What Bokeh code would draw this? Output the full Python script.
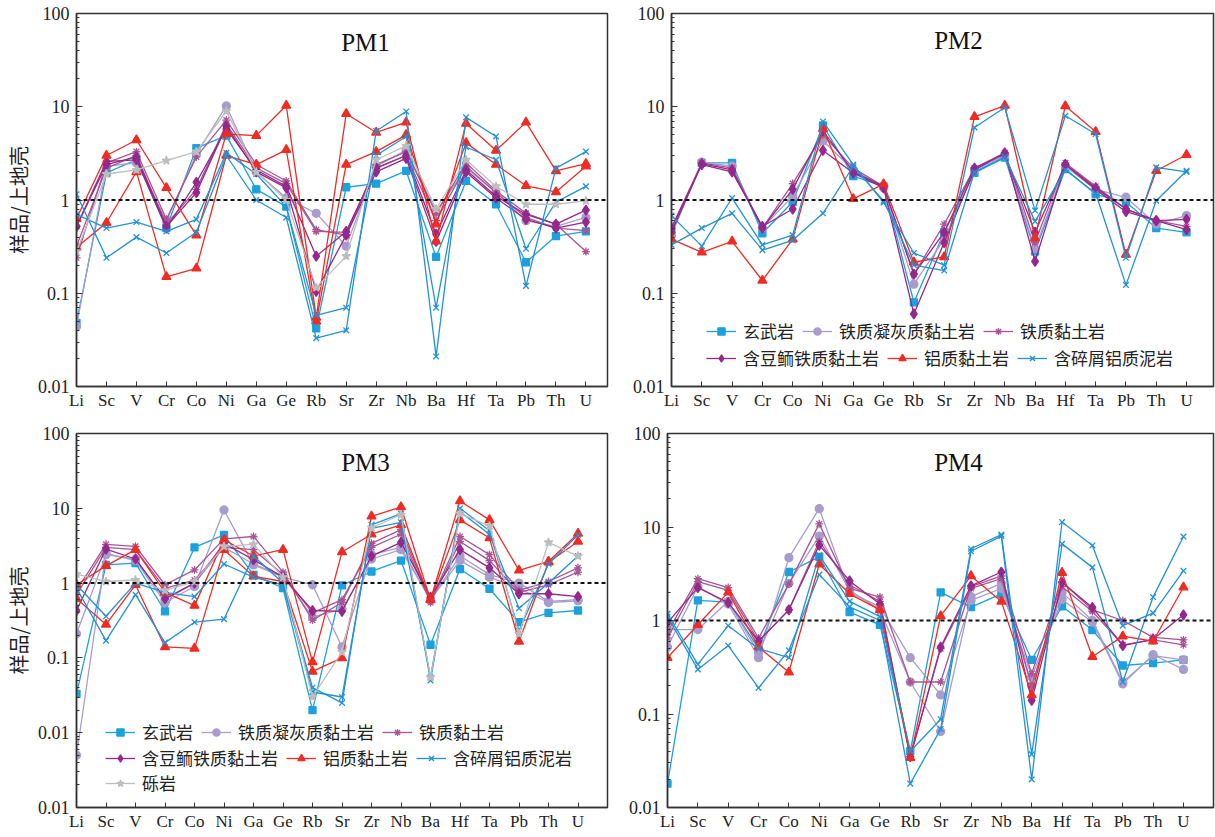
from bokeh.plotting import figure
from bokeh.layouts import column, row
from bokeh.models import (Range1d, FixedTicker, Span, Label, Legend, LegendItem,
                          ColumnDataSource)
from bokeh.embed import file_html
from bokeh.resources import INLINE

# ---------------- data ----------------
ELEMENTS = ["Li", "Sc", "V", "Cr", "Co", "Ni", "Ga", "Ge", "Rb", "Sr",
            "Zr", "Nb", "Ba", "Hf", "Ta", "Pb", "Th", "U"]

# PM1
PM1_BASALT_1 = [0.048, 1.95, 2.7, 0.5, 3.6, 4.9, 1.3, 0.85, 0.042, 1.37, 1.5, 2.05, 0.245, 1.6, 0.9, 0.215, 0.41, 0.46]
PM1_TUFF_1 = [0.044, 2.3, 2.5, 0.6, 3.1, 10.2, 2.0, 1.05, 0.72, 0.32, 2.3, 3.4, 0.75, 2.2, 1.2, 0.6, 0.52, 0.65]
PM1_CLAY_1 = [0.24, 2.5, 3.3, 0.62, 2.9, 7.2, 2.4, 1.6, 0.48, 0.42, 2.4, 3.3, 0.72, 2.5, 1.25, 0.72, 0.55, 0.28]
PM1_CLAY_2 = [0.32, 2.2, 3.0, 0.55, 1.3, 6.5, 2.2, 1.5, 0.46, 0.45, 2.2, 3.0, 0.6, 2.3, 1.2, 0.65, 0.5, 0.47]
PM1_OOLITIC_1 = [0.52, 2.6, 2.7, 0.5, 1.55, 5.8, 2.1, 1.4, 0.25, 0.46, 2.2, 3.0, 0.43, 2.1, 1.1, 0.7, 0.55, 0.78]
PM1_OOLITIC_2 = [0.52, 2.4, 2.9, 0.52, 1.2, 6.2, 2.0, 1.35, 0.105, 0.42, 2.0, 2.8, 0.36, 2.0, 1.05, 0.62, 0.5, 0.58]
PM1_BAUXITIC_1 = [0.63, 3.0, 4.4, 1.35, 0.42, 5.1, 4.9, 10.3, 0.055, 8.4, 5.3, 6.8, 0.36, 6.6, 3.4, 6.8, 2.05, 2.45]
PM1_BAUXITIC_2 = [0.31, 0.57, 2.0, 0.15, 0.185, 3.0, 2.4, 3.45, 0.05, 2.4, 3.3, 5.0, 0.55, 4.1, 2.4, 1.42, 1.22, 2.3]
PM1_DETRITAL_1 = [1.15, 0.24, 0.4, 0.27, 0.45, 3.0, 1.0, 0.65, 0.033, 0.04, 5.5, 8.9, 0.021, 7.7, 4.8, 0.12, 2.2, 3.3]
PM1_DETRITAL_2 = [0.7, 0.5, 0.58, 0.46, 0.62, 3.2, 1.9, 0.85, 0.058, 0.07, 3.0, 4.8, 0.07, 3.7, 2.7, 0.3, 0.95, 1.4]
PM1_GRAVEL_1 = [0.28, 1.9, 2.1, 2.65, 3.3, 9.0, 2.0, 1.0, 0.115, 0.25, 2.7, 3.8, 0.8, 2.7, 1.4, 0.9, 0.9, 0.98]

# PM2
PM2_BASALT_1 = [0.45, 2.5, 2.5, 0.44, 0.95, 6.3, 1.8, 1.4, 0.08, 0.45, 1.95, 2.85, 0.28, 2.15, 1.15, 0.95, 0.5, 0.45]
PM2_TUFF_1 = [0.42, 2.55, 2.3, 0.5, 1.1, 4.3, 2.1, 1.35, 0.125, 0.38, 2.1, 3.0, 0.3, 2.3, 1.3, 1.07, 0.55, 0.68]
PM2_CLAY_1 = [0.5, 2.5, 2.2, 0.5, 1.5, 5.0, 2.2, 1.4, 0.16, 0.55, 2.2, 3.2, 0.35, 2.5, 1.4, 0.8, 0.6, 0.52]
PM2_OOLITIC_1 = [0.5, 2.4, 2.0, 0.52, 0.8, 3.4, 1.95, 1.35, 0.06, 0.35, 2.1, 3.2, 0.22, 2.4, 1.3, 0.75, 0.6, 0.48]
PM2_OOLITIC_2 = [0.45, 2.45, 2.1, 0.5, 1.3, 5.5, 2.0, 1.4, 0.16, 0.45, 2.2, 3.1, 0.45, 2.4, 1.35, 0.8, 0.6, 0.62]
PM2_BAUXITIC_1 = [0.38, 0.275, 0.36, 0.137, 0.38, 5.8, 1.03, 1.48, 0.215, 0.245, 7.8, 10.3, 0.39, 10.2, 5.4, 0.26, 2.06, 3.06]
PM2_DETRITAL_1 = [0.68, 0.32, 1.05, 0.33, 0.42, 6.95, 2.4, 0.94, 0.27, 0.2, 6.0, 9.8, 0.77, 8.0, 5.1, 0.24, 2.24, 2.0]
PM2_DETRITAL_2 = [0.33, 0.5, 0.72, 0.29, 0.37, 0.72, 2.3, 0.98, 0.2, 0.175, 2.0, 2.9, 0.59, 2.1, 1.18, 0.123, 0.98, 2.06]

# PM3
PM3_BASALT_1 = [0.033, 1.75, 1.85, 0.42, 3.0, 4.4, 1.29, 0.86, 0.02, 0.93, 1.43, 2.0, 0.15, 1.54, 0.84, 0.3, 0.4, 0.43]
PM3_TUFF_1 = [0.005, 2.5, 2.0, 0.55, 0.9, 9.5, 1.75, 1.2, 0.95, 0.14, 2.4, 3.0, 0.6, 2.3, 1.3, 1.0, 0.57, 0.6]
PM3_TUFF_2 = [0.21, 2.4, 2.1, 0.6, 1.0, 3.0, 1.8, 1.25, 0.35, 0.45, 2.1, 2.8, 0.6, 2.0, 1.2, 0.85, 0.55, 0.58]
PM3_CLAY_1 = [0.8, 3.3, 3.1, 0.95, 1.5, 3.9, 4.2, 1.4, 0.32, 0.55, 3.4, 5.2, 0.58, 4.2, 2.4, 0.8, 1.05, 1.6]
PM3_CLAY_2 = [0.7, 3.0, 2.8, 0.85, 1.1, 3.0, 2.8, 1.3, 0.4, 0.6, 3.0, 4.5, 0.55, 3.6, 2.0, 0.75, 0.95, 1.4]
PM3_OOLITIC_1 = [0.43, 2.85, 2.1, 0.62, 1.0, 3.4, 2.05, 1.2, 0.43, 0.42, 2.3, 3.5, 0.65, 2.8, 1.6, 0.72, 0.72, 0.66]
PM3_BAUXITIC_1 = [0.95, 1.7, 2.8, 0.75, 0.5, 3.8, 2.3, 2.8, 0.088, 2.6, 4.5, 6.0, 0.6, 7.0, 4.0, 0.166, 1.9, 3.6]
PM3_BAUXITIC_2 = [0.62, 0.28, 0.95, 0.14, 0.134, 2.8, 1.23, 1.05, 0.066, 0.1, 7.8, 10.4, 0.6, 12.5, 7.0, 1.48, 1.95, 4.6]
PM3_DETRITAL_1 = [0.85, 0.17, 0.7, 0.16, 0.3, 0.33, 2.3, 1.0, 0.04, 0.025, 6.0, 8.5, 0.05, 10.0, 5.0, 0.23, 1.8, 4.4]
PM3_DETRITAL_2 = [0.95, 0.36, 1.0, 0.75, 0.66, 1.8, 1.2, 0.95, 0.035, 0.03, 5.4, 6.5, 0.055, 9.0, 4.5, 0.46, 1.0, 2.3]
PM3_GRAVEL_1 = [1.32, 1.05, 1.1, 0.8, 1.05, 3.1, 3.3, 1.2, 0.03, 0.12, 5.5, 8.2, 0.055, 8.5, 5.8, 0.21, 3.5, 2.3]

# PM4
PM4_BASALT_1 = [0.018, 1.64, 1.57, 0.5, 3.3, 4.8, 1.23, 0.9, 0.04, 2.0, 1.39, 1.93, 0.38, 1.42, 0.79, 0.33, 0.35, 0.38]
PM4_TUFF_1 = [0.52, 2.3, 1.5, 0.4, 4.7, 15.7, 2.0, 1.4, 0.4, 0.16, 1.64, 2.2, 0.25, 1.68, 0.96, 0.21, 0.43, 0.3]
PM4_TUFF_2 = [0.8, 0.8, 1.6, 0.45, 2.5, 8.0, 2.1, 1.3, 0.22, 0.065, 1.8, 2.5, 0.2, 2.0, 1.0, 0.22, 0.42, 0.38]
PM4_CLAY_1 = [0.75, 2.8, 2.25, 0.65, 2.45, 10.8, 2.2, 1.78, 0.22, 0.22, 2.3, 3.0, 0.27, 2.6, 1.3, 1.0, 0.66, 0.62]
PM4_CLAY_2 = [0.65, 2.6, 2.1, 0.6, 1.3, 7.0, 2.4, 1.6, 0.035, 0.5, 2.2, 2.8, 0.2, 2.3, 1.25, 0.55, 0.62, 0.55]
PM4_OOLITIC_1 = [0.95, 2.25, 1.55, 0.6, 1.3, 6.4, 2.65, 1.5, 0.035, 0.52, 2.35, 3.3, 0.14, 2.55, 1.38, 0.54, 0.63, 1.15]
PM4_BAUXITIC_1 = [0.4, 0.9, 2.0, 0.52, 0.28, 4.0, 1.93, 1.3, 0.034, 1.12, 3.0, 1.6, 0.16, 3.25, 0.41, 0.68, 0.6, 2.27]
PM4_DETRITAL_1 = [1.18, 0.34, 0.88, 0.5, 0.4, 5.0, 1.6, 1.1, 0.04, 0.088, 5.85, 8.3, 0.037, 6.6, 3.7, 0.22, 1.78, 7.9]
PM4_DETRITAL_2 = [1.1, 0.3, 0.54, 0.19, 0.48, 3.1, 1.4, 1.0, 0.018, 0.069, 5.5, 8.0, 0.02, 11.3, 6.35, 0.88, 1.2, 3.4]

ROCK_LABELS = {
    "basalt": "玄武岩",
    "tuff": "铁质凝灰质黏土岩",
    "clay": "铁质黏土岩",
    "oolitic": "含豆鲕铁质黏土岩",
    "bauxitic": "铝质黏土岩",
    "detrital": "含碎屑铝质泥岩",
    "gravel": "砾岩",
}

# ---------------- styles ----------------
STYLE = {
    "basalt":   dict(marker="square",   color="#1ba1dd", size=7),
    "tuff":     dict(marker="circle",   color="#a89ccc", size=8),
    "clay":     dict(marker="asterisk", color="#a85595", size=8),
    "oolitic":  dict(marker="diamond",  color="#94288c", size=10),
    "bauxitic": dict(marker="triangle", color="#ee2c24", size=9),
    "detrital": dict(marker="x",        color="#2391d6", size=8),
    "gravel":   dict(marker="star",     color="#bdbdbd", size=9),
}
ORDER = ["basalt", "tuff", "clay", "oolitic", "bauxitic", "detrital", "gravel"]

SERIF = "Liberation Serif"
CJK = "Noto Sans CJK SC"

PANELS = {
    "PM1": {"basalt": [PM1_BASALT_1], "tuff": [PM1_TUFF_1], "clay": [PM1_CLAY_1, PM1_CLAY_2],
            "oolitic": [PM1_OOLITIC_1, PM1_OOLITIC_2], "bauxitic": [PM1_BAUXITIC_1, PM1_BAUXITIC_2],
            "detrital": [PM1_DETRITAL_1, PM1_DETRITAL_2], "gravel": [PM1_GRAVEL_1]},
    "PM2": {"basalt": [PM2_BASALT_1], "tuff": [PM2_TUFF_1], "clay": [PM2_CLAY_1],
            "oolitic": [PM2_OOLITIC_1, PM2_OOLITIC_2], "bauxitic": [PM2_BAUXITIC_1],
            "detrital": [PM2_DETRITAL_1, PM2_DETRITAL_2]},
    "PM3": {"basalt": [PM3_BASALT_1], "tuff": [PM3_TUFF_1, PM3_TUFF_2], "clay": [PM3_CLAY_1, PM3_CLAY_2],
            "oolitic": [PM3_OOLITIC_1], "bauxitic": [PM3_BAUXITIC_1, PM3_BAUXITIC_2],
            "detrital": [PM3_DETRITAL_1, PM3_DETRITAL_2], "gravel": [PM3_GRAVEL_1]},
    "PM4": {"basalt": [PM4_BASALT_1], "tuff": [PM4_TUFF_1, PM4_TUFF_2], "clay": [PM4_CLAY_1, PM4_CLAY_2],
            "oolitic": [PM4_OOLITIC_1], "bauxitic": [PM4_BAUXITIC_1],
            "detrital": [PM4_DETRITAL_1, PM4_DETRITAL_2]},
}

X = list(range(len(ELEMENTS)))


def make_panel(name, width, height, borders, x_end, y_min, ylabel, title_xy,
               legend_rows=None, legend_xy=None, bottom_label=None):
    bl, br, bt, bb = borders
    p = figure(width=width, height=height, x_range=Range1d(0, x_end),
               y_range=Range1d(y_min, 100), y_axis_type="log",
               output_backend="svg", toolbar_location=None,
               min_border_left=bl, min_border_right=br,
               min_border_top=bt, min_border_bottom=bb)
    p.grid.visible = False
    p.outline_line_color = "#333333"
    p.outline_line_width = 1.5
    p.background_fill_color = "white"
    p.border_fill_color = "white"

    # x axis
    xa = p.xaxis[0]
    xa.ticker = FixedTicker(ticks=X)
    xa.major_label_overrides = {i: e for i, e in enumerate(ELEMENTS)}
    xa.major_label_text_font = SERIF
    xa.major_label_text_font_size = "17px"
    xa.major_label_text_color = "#222222"
    xa.major_label_standoff = 4
    xa.major_tick_in = 5
    xa.major_tick_out = 0
    xa.minor_tick_line_color = None
    xa.axis_line_color = "#333333"
    xa.axis_line_width = 1.5
    xa.major_tick_line_color = "#333333"

    # y axis
    ya = p.yaxis[0]
    majors = []
    v = y_min
    while v <= 100.0001:
        majors.append(round(v, 6))
        v *= 10
    minors = [round(m * k, 8) for m in majors[:-1] for k in range(2, 10)]
    ya.ticker = FixedTicker(ticks=majors, minor_ticks=minors)
    overrides = {m: (("%g" % m)) for m in majors}
    if bottom_label is not None:
        overrides[majors[0]] = bottom_label
    ya.major_label_overrides = overrides
    ya.major_label_text_font = SERIF
    ya.major_label_text_font_size = "18px"
    ya.major_label_text_color = "#222222"
    ya.major_label_standoff = 7
    ya.major_tick_in = 6
    ya.major_tick_out = 0
    ya.minor_tick_in = 3
    ya.minor_tick_out = 0
    ya.axis_line_color = "#333333"
    ya.axis_line_width = 1.5
    ya.major_tick_line_color = "#333333"
    ya.minor_tick_line_color = "#333333"
    if ylabel:
        ya.axis_label = ylabel
        ya.axis_label_text_font = CJK
        ya.axis_label_text_font_size = "20px"
        ya.axis_label_text_font_style = "normal"
        ya.axis_label_text_color = "#222222"
        ya.axis_label_standoff = 2

    p.add_layout(Span(location=1, dimension="width", line_color="#111111",
                      line_dash="4 3", line_width=2))

    first = {}
    for key in ORDER:
        samples = PANELS[name].get(key, [])
        st = STYLE[key]
        for vals in samples:
            src = ColumnDataSource(dict(x=X, y=vals))
            ln = p.line("x", "y", source=src, line_color=st["color"], line_width=1.3)
            sc = p.scatter("x", "y", source=src, marker=st["marker"], size=st["size"],
                           fill_color=st["color"], line_color=st["color"], line_width=1.3)
            if key not in first:
                first[key] = [ln, sc]

    p.add_layout(Label(x=title_xy[0], y=title_xy[1], x_units="screen", y_units="screen",
                       text=name, text_font=SERIF, text_font_size="25px",
                       text_color="#111111", text_align="center", text_baseline="middle"))

    if legend_rows:
        for keys, (lx, ly) in zip(legend_rows, legend_xy):
            items = [LegendItem(label=ROCK_LABELS[k], renderers=first[k]) for k in keys]
            leg = Legend(items=items, orientation="horizontal", location=(lx, ly),
                         glyph_width=30, glyph_height=18, label_standoff=7, spacing=8,
                         padding=0, margin=0, border_line_color=None,
                         background_fill_alpha=0, label_text_font=CJK,
                         label_text_font_size="17px", label_text_color="#222222",
                         label_height=20)
            p.add_layout(leg)
    return p


p1 = make_panel("PM1", 610, 418, (68, 3, 13, 32), 17.72, 0.01, "样品/上地壳", (289, 344))
p2 = make_panel("PM2", 605, 418, (61, 2, 13, 32), 17.89, 0.01, None, (287, 346),
                legend_rows=[["basalt", "tuff", "clay"], ["oolitic", "bauxitic", "detrital"]],
                legend_xy=[(35, 43), (35, 16)])
p3 = make_panel("PM3", 610, 419, (68, 3, 15, 30), 18.0, 0.001, "样品/上地壳", (289, 345),
                legend_rows=[["basalt", "tuff", "clay"], ["oolitic", "bauxitic", "detrital"], ["gravel"]],
                legend_xy=[(29, 63), (29, 37), (29, 12)], bottom_label="0.01")
p4 = make_panel("PM4", 605, 419, (57, 2, 15, 30), 17.99, 0.01, None, (291, 345))

layout = column(row(p1, p2), row(p3, p4))
open("out.html", "w").write(file_html(layout, INLINE))
